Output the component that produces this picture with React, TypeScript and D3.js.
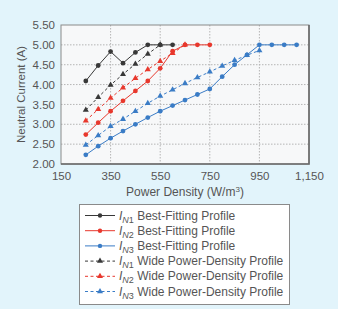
import { useEffect, useRef } from "react";
import * as d3 from "d3";

// power density (W/m^3) sampled every 50 units
const powerDensity = [
  250, 300, 350, 400, 450, 500, 550, 600, 650, 700, 750, 800, 850, 900, 950,
  1000, 1050, 1100,
];

const in1Best = [4.09, 4.48, 4.83, 4.54, 4.81, 5.0, 5.0, 5.0];
const in2Best = [2.74, 3.04, 3.33, 3.59, 3.84, 4.09, 4.41, 4.84, 5.0, 5.0, 5.0];
const in3Best = [
  2.23, 2.45, 2.65, 2.83, 3.0, 3.17, 3.33, 3.47, 3.61, 3.75, 3.89, 4.2, 4.5,
  4.75, 5.0, 5.0, 5.0, 5.0,
];
const in1Wide = [3.36, 3.68, 3.99, 4.26, 4.52, 4.77, 5.0];
const in2Wide = [3.09, 3.38, 3.66, 3.92, 4.16, 4.38, 4.59, 4.79, 5.0];
const in3Wide = [
  2.48, 2.72, 2.95, 3.13, 3.33, 3.53, 3.71, 3.87, 4.03, 4.18, 4.32, 4.47, 4.61,
  4.74, 4.86,
];

const xTicks = [150, 350, 550, 750, 950, 1150];
const yTicks = [2.0, 2.5, 3.0, 3.5, 4.0, 4.5, 5.0, 5.5];

const BLACK = "#383838";
const RED = "#e8382d";
const BLUE = "#3a7cc6";

const series = [
  { sub: "N1", label: "Best-Fitting Profile", values: in1Best, color: BLACK, dashed: false },
  { sub: "N2", label: "Best-Fitting Profile", values: in2Best, color: RED, dashed: false },
  { sub: "N3", label: "Best-Fitting Profile", values: in3Best, color: BLUE, dashed: false },
  { sub: "N1", label: "Wide Power-Density Profile", values: in1Wide, color: BLACK, dashed: true },
  { sub: "N2", label: "Wide Power-Density Profile", values: in2Wide, color: RED, dashed: true },
  { sub: "N3", label: "Wide Power-Density Profile", values: in3Wide, color: BLUE, dashed: true },
];

const FONT = "'Liberation Sans', Arial, sans-serif";
const TEXT = "#555";

export default function App() {
  const svgRef = useRef<SVGSVGElement>(null);
  const width = 338;
  const height = 309;

  useEffect(() => {
    if (!svgRef.current) return;
    const svg = d3.select(svgRef.current);
    svg.selectAll("*").remove();

    svg
      .append("rect")
      .attr("width", width)
      .attr("height", height)
      .attr("fill", "#e2f4fb");

    const plot = { left: 61, right: 309, top: 25, bottom: 164 };

    const x = d3.scaleLinear().domain([150, 1150]).range([plot.left, plot.right]);
    const y = d3.scaleLinear().domain([2, 5.5]).range([plot.bottom, plot.top]);

    svg
      .append("rect")
      .attr("x", plot.left)
      .attr("y", plot.top)
      .attr("width", plot.right - plot.left)
      .attr("height", plot.bottom - plot.top)
      .attr("fill", "#f7f8f9");

    // dotted grid
    const grid = svg.append("g");
    grid
      .selectAll("line.v")
      .data(xTicks.slice(1, -1))
      .enter()
      .append("line")
      .attr("x1", (d) => x(d))
      .attr("x2", (d) => x(d))
      .attr("y1", plot.top)
      .attr("y2", plot.bottom)
      .attr("stroke", "#b5b5b5")
      .attr("stroke-dasharray", "1.5,1.5");
    grid
      .selectAll("line.h")
      .data(yTicks.slice(1, -1))
      .enter()
      .append("line")
      .attr("x1", plot.left)
      .attr("x2", plot.right)
      .attr("y1", (d) => y(d))
      .attr("y2", (d) => y(d))
      .attr("stroke", "#b5b5b5")
      .attr("stroke-dasharray", "1.5,1.5");

    // frame, heavier on the right and bottom
    svg
      .append("rect")
      .attr("x", plot.left)
      .attr("y", plot.top)
      .attr("width", plot.right - plot.left)
      .attr("height", plot.bottom - plot.top)
      .attr("fill", "none")
      .attr("stroke", "#8a8a8a");
    svg
      .append("path")
      .attr("d", `M${plot.right},${plot.top}V${plot.bottom}H${plot.left}`)
      .attr("fill", "none")
      .attr("stroke", "#6a6a6a")
      .attr("stroke-width", 1.6);

    // axes
    const xAxis = svg
      .append("g")
      .attr("transform", `translate(0,${plot.bottom})`)
      .call(
        d3
          .axisBottom(x)
          .tickValues(xTicks)
          .tickSize(0)
          .tickPadding(8)
          .tickFormat((d) => d3.format(",")(d as number)),
      );
    xAxis.select(".domain").remove();
    xAxis
      .selectAll("text")
      .attr("fill", TEXT)
      .style("font-family", FONT)
      .style("font-size", "11.5px");

    const yAxis = svg
      .append("g")
      .attr("transform", `translate(${plot.left},0)`)
      .call(
        d3
          .axisLeft(y)
          .tickValues(yTicks)
          .tickSize(0)
          .tickPadding(6)
          .tickFormat((d) => d3.format(".2f")(d as number)),
      );
    yAxis.select(".domain").remove();
    yAxis
      .selectAll("text")
      .attr("fill", TEXT)
      .style("font-family", FONT)
      .style("font-size", "11.5px");

    // axis titles
    const xTitle = svg
      .append("text")
      .attr("x", (plot.left + plot.right) / 2)
      .attr("y", 196)
      .attr("text-anchor", "middle")
      .attr("fill", TEXT)
      .style("font-family", FONT)
      .style("font-size", "12px");
    xTitle.append("tspan").text("Power Density (W/m");
    xTitle.append("tspan").attr("dy", -4.5).style("font-size", "8px").text("3");
    xTitle.append("tspan").attr("dy", 4.5).text(")");

    svg
      .append("text")
      .attr("transform", `translate(25,${(plot.top + plot.bottom) / 2}) rotate(-90)`)
      .attr("text-anchor", "middle")
      .attr("fill", TEXT)
      .style("font-family", FONT)
      .style("font-size", "11.5px")
      .text("Neutral Current (A)");

    const line = d3
      .line<number>()
      .x((_d, i) => x(powerDensity[i]))
      .y((d) => y(d));

    const triangle = d3.symbol().type(d3.symbolTriangle).size(16);

    // wide profiles first, best-fitting on top
    const order = [3, 4, 5, 0, 1, 2];
    order.forEach((k) => {
      const s = series[k];
      const g = svg.append("g");
      g.append("path")
        .datum(s.values)
        .attr("d", line)
        .attr("fill", "none")
        .attr("stroke", s.color)
        .attr("stroke-width", 1)
        .attr("stroke-dasharray", s.dashed ? "3,2.5" : null);
      if (s.dashed) {
        g.selectAll("path.m")
          .data(s.values)
          .enter()
          .append("path")
          .attr("d", triangle)
          .attr("transform", (d, i) => `translate(${x(powerDensity[i])},${y(d)})`)
          .attr("fill", s.color);
      } else {
        g.selectAll("circle")
          .data(s.values)
          .enter()
          .append("circle")
          .attr("cx", (_d, i) => x(powerDensity[i]))
          .attr("cy", (d) => y(d))
          .attr("r", 2.4)
          .attr("fill", s.color);
      }
    });

    // legend
    const legend = svg.append("g");
    legend
      .append("rect")
      .attr("x", 79.5)
      .attr("y", 204.5)
      .attr("width", 210)
      .attr("height", 100)
      .attr("fill", "#ffffff")
      .attr("stroke", "#8a8a8a");

    const rowY = d3.scaleLinear().domain([0, 5]).range([215.5, 291.5]);
    series.forEach((s, i) => {
      const cy = rowY(i);
      legend
        .append("line")
        .attr("x1", 85)
        .attr("x2", 115)
        .attr("y1", cy)
        .attr("y2", cy)
        .attr("stroke", s.color)
        .attr("stroke-width", 1)
        .attr("stroke-dasharray", s.dashed ? "3,2.5" : null);
      if (s.dashed) {
        legend
          .append("path")
          .attr("d", triangle)
          .attr("transform", `translate(100,${cy})`)
          .attr("fill", s.color);
      } else {
        legend
          .append("circle")
          .attr("cx", 100)
          .attr("cy", cy)
          .attr("r", 2.2)
          .attr("fill", s.color);
      }
      const t = legend
        .append("text")
        .attr("x", 119)
        .attr("y", cy + 4)
        .attr("fill", TEXT)
        .style("font-family", FONT)
        .style("font-size", "12px");
      t.append("tspan").style("font-style", "italic").text("I");
      t.append("tspan")
        .attr("dy", 3)
        .style("font-size", "9px")
        .style("font-style", "italic")
        .text(s.sub.charAt(0));
      t.append("tspan").style("font-size", "9px").text(s.sub.charAt(1));
      t.append("tspan").attr("dy", -3).text(" " + s.label);
    });
  }, []);

  return (
    <svg
      ref={svgRef}
      width={width}
      height={height}
      viewBox={`0 0 ${width} ${height}`}
      style={{ position: "absolute", left: 0, top: 0 }}
    />
  );
}
